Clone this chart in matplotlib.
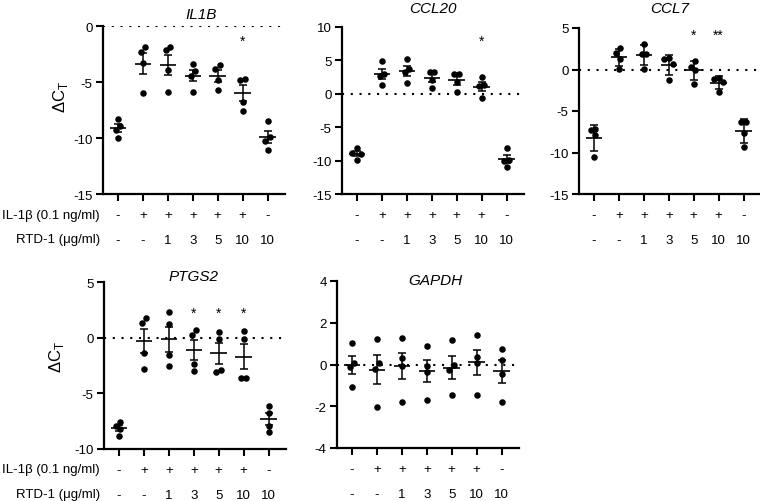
import numpy as np
import matplotlib
matplotlib.use("Agg")
import matplotlib.pyplot as plt

plt.rcParams['font.family'] = ['Liberation Sans', 'DejaVu Sans']
plt.rcParams['axes.unicode_minus'] = False

W, H = 760, 502

# row labels under each panel
il1b_label = 'IL-1β (0.1 ng/ml)'
rtd_label = 'RTD-1 (μg/ml)'
il1b_row = ['-', '+', '+', '+', '+', '+', '-']
rtd_row = ['-', '-', '1', '3', '5', '10', '10']

# delta Ct values, 4 replicates per condition
il1b = [[-8.3, -8.9, -9.3, -10.0],
        [-2.3, -1.85, -3.3, -5.95],
        [-2.15, -1.9, -3.95, -5.85],
        [-3.35, -4.0, -4.5, -5.85],
        [-3.85, -3.45, -4.8, -5.75],
        [-4.85, -4.75, -6.8, -7.6],
        [-8.45, -9.95, -10.3, -11.05]]
ccl20 = [[-8.1, -8.85, -8.95, -9.95],
         [4.9, 2.7, 2.9, 1.3],
         [5.2, 3.7, 3.25, 1.6],
         [3.3, 3.2, 2.1, 0.85],
         [3.0, 3.0, 1.8, 0.2],
         [2.5, 1.35, 1.15, -0.65],
         [-8.1, -9.9, -10.1, -11.0]]
ccl7 = [[-7.25, -7.15, -7.95, -10.55],
        [2.55, 1.95, 1.3, 0.1],
        [3.1, 1.9, 1.9, 0.1],
        [1.3, 1.35, 0.7, -1.25],
        [1.0, 0.35, -0.05, -1.75],
        [-1.0, -1.2, -1.55, -2.75],
        [-6.35, -6.35, -7.65, -9.3]]
ptgs2 = [[-7.6, -7.9, -8.2, -8.8],
         [1.3, 1.8, -1.4, -2.85],
         [2.3, 1.25, -1.6, -2.5],
         [0.65, 0.2, -2.35, -2.95],
         [0.5, -0.15, -2.9, -3.1],
         [0.6, -0.1, -3.65, -3.65],
         [-6.1, -6.8, -7.9, -8.5]]
gapdh = [[1.05, 0.08, -0.13, -1.1],
         [1.2, 0.08, -0.2, -2.05],
         [1.25, 0.33, -0.08, -1.8],
         [0.9, -0.05, -0.37, -1.72],
         [1.15, 0.0, -0.28, -1.48],
         [1.43, 0.37, 0.08, -1.48],
         [0.75, 0.2, -0.45, -1.8]]

il1b_stars = ['', '', '', '', '', '*', '']
ccl20_stars = ['', '', '', '', '', '*', '']
ccl7_stars = ['', '', '', '', '*', '**', '']
ptgs2_stars = ['', '', '', '*', '*', '*', '']
gapdh_stars = [''] * 7

# name, values, stars, error type, ylim, yticks, star height,
# axes box in px (left, top, right, bottom), title centre px, ylabel px
panels = [
    ('IL1B', il1b, il1b_stars, 'sem', (-15, 0), [0, -5, -10, -15], -1.3,
     (103, 27, 285, 195), (201, 15), (60, 97)),
    ('CCL20', ccl20, ccl20_stars, 'sem', (-15, 10), [10, 5, 0, -5, -10, -15], 8.0,
     (342, 28, 524, 195), (433, 9), None),
    ('CCL7', ccl7, ccl7_stars, 'sd', (-15, 5), [5, 0, -5, -10, -15], 4.2,
     (579, 29, 761, 195), (670, 9), None),
    ('PTGS2', ptgs2, ptgs2_stars, 'sem', (-10, 5), [5, 0, -5, -10], 2.2,
     (104, 283, 286, 450), (194, 277), (57, 357)),
    ('GAPDH', gapdh, gapdh_stars, 'sem', (-4, 4), [4, 2, 0, -2, -4], None,
     (337, 282, 519, 449), (435, 281), None),
]


def swarm_offsets(ax, vals, x0, diam=6.0, step=4.5):
    # slot based beeswarm in pixel space, each touching cluster centred
    vals = np.asarray(vals, dtype=float)
    py = ax.transData.transform(np.column_stack([np.full(len(vals), x0), vals]))[:, 1]
    order = np.argsort(-vals)
    offs = np.zeros(len(vals))
    placed = []
    for i in order:
        for cand in [0, -step, step, -2 * step, 2 * step]:
            if all(not (abs(cand - dx) < 0.5 * step and abs(py[i] - y) < diam)
                   for dx, y in placed):
                break
        offs[i] = cand
        placed.append((cand, py[i]))
    clusters = [[order[0]]]
    for a, b in zip(order[:-1], order[1:]):
        if abs(py[a] - py[b]) < diam:
            clusters[-1].append(b)
        else:
            clusters.append([b])
    for c in clusters:
        offs[c] -= offs[c].mean()
    px_per_unit = ax.transData.transform((1, 0))[0] - ax.transData.transform((0, 0))[0]
    return offs / px_per_unit


fig = plt.figure(figsize=(W / 100, H / 100), dpi=100)

for name, data, stars, etype, ylim, yticks, star_y, box, tpos, ylab in panels:
    l, t, r, b = box
    ax = fig.add_axes([l / W, 1 - b / H, (r - l) / W, (b - t) / H])
    ax.set_xlim(-0.6, 6.7)
    ax.set_ylim(*ylim)
    for s in ['top', 'right']:
        ax.spines[s].set_visible(False)
    for s in ['left', 'bottom']:
        ax.spines[s].set_linewidth(1.6)
    ax.set_yticks(yticks)
    ax.set_yticklabels([str(v) for v in yticks])
    ax.set_xticks(range(len(data)))
    ax.set_xticklabels([])
    ax.tick_params(axis='y', direction='out', length=5, width=1.5, labelsize=9.5, pad=2.5)
    ax.tick_params(axis='x', direction='out', length=5, width=1.5)
    ax.patch.set_visible(False)

    ax.axhline(0, color='black', lw=1.5, ls=(0, (1, 3.2)), zorder=1)

    for i, vals in enumerate(data):
        vals = np.asarray(vals)
        dx = swarm_offsets(ax, vals, i)
        ax.scatter(i + dx, vals, s=22, color='black', linewidths=0, zorder=3)
        m = vals.mean()
        sd = vals.std(ddof=1)
        err = sd if etype == 'sd' else sd / np.sqrt(len(vals))
        ax.errorbar(i, m, yerr=err, fmt='none', ecolor='black', elinewidth=1.1,
                    capsize=3, capthick=1.1, zorder=4)
        ax.hlines(m, i - 0.33, i + 0.33, color='black', lw=1.2, zorder=4)
        if stars[i]:
            ax.text(i, star_y, stars[i], ha='center', va='center', fontsize=10)

    # condition rows under the axis
    for i in range(len(data)):
        ax.annotate(il1b_row[i], xy=(i, 0), xycoords=ax.get_xaxis_transform(),
                    xytext=(0, -15), textcoords='offset points',
                    ha='center', va='center', fontsize=9.5)
        ax.annotate(rtd_row[i], xy=(i, 0), xycoords=ax.get_xaxis_transform(),
                    xytext=(0, -33), textcoords='offset points',
                    ha='center', va='center', fontsize=9.5)

    fig.text(tpos[0] / W, 1 - tpos[1] / H, name, ha='center', va='center',
             fontsize=11, style='italic')

    if ylab is not None:
        fig.text(ylab[0] / W, 1 - ylab[1] / H, 'ΔC$_\\mathregular{T}$', rotation=90,
                 ha='center', va='center', fontsize=12)
        y1 = b + 20.5
        y2 = b + 45
        fig.text(100 / W, 1 - y1 / H, il1b_label, ha='right', va='center', fontsize=9.5)
        fig.text(100 / W, 1 - y2 / H, rtd_label, ha='right', va='center', fontsize=9.5)

fig.savefig('out.png', dpi=100)
